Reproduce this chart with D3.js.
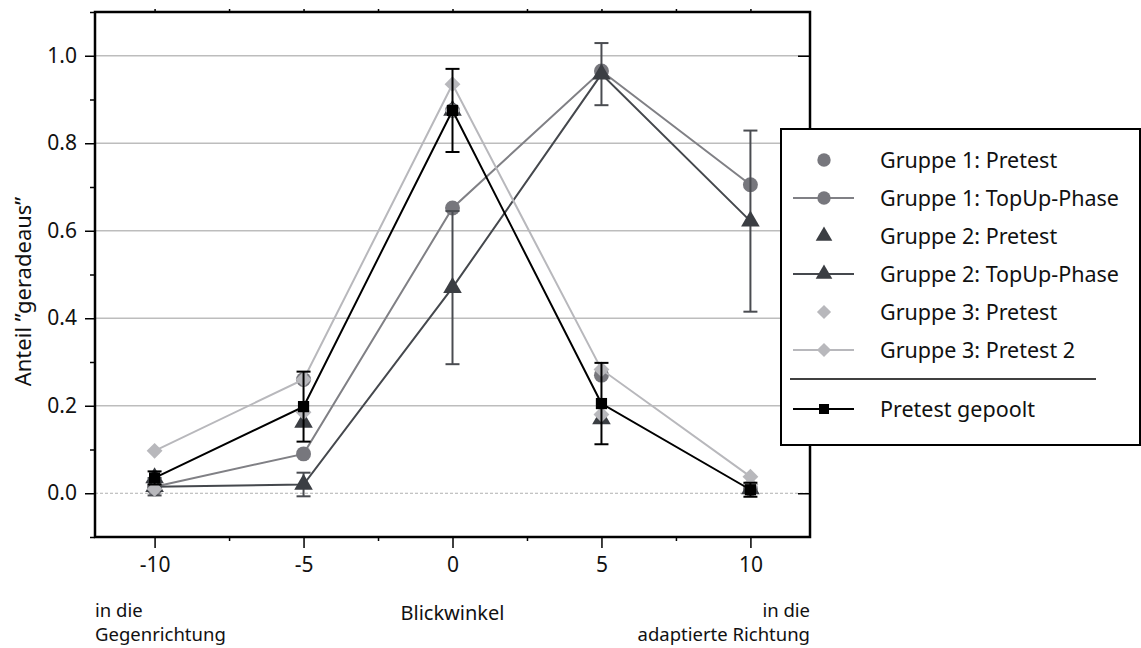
<!DOCTYPE html>
<html>
<head>
<meta charset="utf-8">
<script src="https://cdn.jsdelivr.net/npm/d3@7"></script>
<style>
  body { margin: 0; background: #fff; }
  svg text { font-family: "Noto Sans", "Open Sans", sans-serif; fill: #111; }
</style>
</head>
<body>
<svg id="chart" width="1141" height="648"></svg>
<script>
// data
const angles = [-10, -5, 0, 5, 10];
const g1Pretest = [0.01, 0.26, 0.875, 0.27, 0.01];
const g1TopUp = [0.015, 0.09, 0.652, 0.965, 0.705];
const g2Pretest = [0.035, 0.162, 0.875, 0.17, 0.01];
const g2TopUp = [0.015, 0.02, 0.47, 0.958, 0.622];
const g2TopUpErr = [0.02, 0.027, 0.175, 0.071, 0.207];
const g3Pretest = [0.01, 0.185, 0.875, 0.18, 0.02];
const g3Pretest2 = [0.097, 0.26, 0.935, 0.283, 0.038];
const pooled = [0.035, 0.198, 0.875, 0.205, 0.008];
const pooledErr = [0.015, 0.08, 0.095, 0.093, 0.016];
const xTicks = [-10, -5, 0, 5, 10];
const yTicks = [0, 0.2, 0.4, 0.6, 0.8, 1.0];

const series = [
  { name: 'Gruppe 1: Pretest', values: g1Pretest, shape: d3.symbolCircle, size: 175, fill: '#77777d', line: null },
  { name: 'Gruppe 1: TopUp-Phase', values: g1TopUp, shape: d3.symbolCircle, size: 175, fill: '#77777d', line: '#808085' },
  { name: 'Gruppe 2: Pretest', values: g2Pretest, shape: d3.symbolTriangle, size: 150, fill: '#3b3e43', line: null },
  { name: 'Gruppe 2: TopUp-Phase', values: g2TopUp, shape: d3.symbolTriangle, size: 150, fill: '#3b3e43', line: '#45484d', err: g2TopUpErr, errColor: '#4a4c51' },
  { name: 'Gruppe 3: Pretest', values: g3Pretest, shape: d3.symbolDiamond2, size: 160, fill: '#b8b8bc', line: null },
  { name: 'Gruppe 3: Pretest 2', values: g3Pretest2, shape: d3.symbolDiamond2, size: 160, fill: '#b8b8bc', line: '#b8b8bc' },
  { name: 'Pretest gepoolt', values: pooled, shape: d3.symbolSquare2, size: 160, fill: '#000', line: '#000', err: pooledErr, errColor: '#000' }
];

const svg = d3.select('#chart');
const mLeft = 95, mRight = 810, mTop = 12, mBottom = 537;

const x = d3.scaleLinear().domain([-12, 12]).range([mLeft, mRight]);
const y = d3.scaleLinear().domain([-0.1, 1.1]).range([mBottom, mTop]);

// grid
svg.append('g')
  .selectAll('line')
  .data(yTicks.filter(d => d > 0))
  .enter()
  .append('line')
  .attr('x1', mLeft).attr('x2', mRight)
  .attr('y1', d => y(d)).attr('y2', d => y(d))
  .attr('stroke', '#bdbdbd')
  .attr('stroke-width', 1.5);

svg.append('line')
  .attr('x1', mLeft).attr('x2', mRight)
  .attr('y1', y(0)).attr('y2', y(0))
  .attr('stroke', '#b0b0b0')
  .attr('stroke-width', 1)
  .attr('stroke-dasharray', '3,2');

// axes
const xMinor = d3.range(-12.5, 12.6, 2.5).filter(d => d >= -12 && d <= 12 && d % 5 !== 0);
const yMinor = d3.range(-0.1, 1.11, 0.2);

svg.append('g')
  .attr('transform', `translate(0,${mBottom})`)
  .call(d3.axisBottom(x).tickValues(xTicks).tickSize(11).tickPadding(9).tickFormat(d => String(d)))
  .call(g => g.select('.domain').remove())
  .call(g => g.selectAll('text').style('font-size', '21px'));

svg.append('g')
  .attr('transform', `translate(0,${mBottom})`)
  .call(d3.axisBottom(x).tickValues(xMinor).tickSize(4).tickFormat(''))
  .call(g => g.select('.domain').remove());

svg.append('g')
  .attr('transform', `translate(${mLeft},0)`)
  .call(d3.axisLeft(y).tickValues(yTicks).tickSize(10).tickPadding(8).tickFormat(d3.format('.1f')))
  .call(g => g.select('.domain').remove())
  .call(g => g.selectAll('text').style('font-size', '21px'));

svg.append('g')
  .attr('transform', `translate(${mLeft},0)`)
  .call(d3.axisLeft(y).tickValues(yMinor).tickSize(5).tickFormat(''))
  .call(g => g.select('.domain').remove());

svg.append('g')
  .attr('transform', `translate(${mRight},0)`)
  .call(d3.axisLeft(y).tickValues(yTicks).tickSize(12).tickFormat(''))
  .call(g => g.select('.domain').remove());

svg.append('g')
  .attr('transform', `translate(0,${mTop})`)
  .call(d3.axisTop(x).tickValues(xTicks.concat(xMinor)).tickSize(3).tickFormat(''))
  .call(g => g.select('.domain').remove());

svg.selectAll('.tick line').attr('stroke', '#000').attr('stroke-width', 1.5);

// frame
svg.append('rect')
  .attr('x', mLeft).attr('y', mTop)
  .attr('width', mRight - mLeft).attr('height', mBottom - mTop)
  .attr('fill', 'none')
  .attr('stroke', '#000')
  .attr('stroke-width', 2.5);

// series
const lineGen = d3.line()
  .x((d, i) => x(angles[i]))
  .y(d => y(d));

series.forEach(s => {
  const g = svg.append('g');
  if (s.line) {
    g.append('path')
      .attr('d', lineGen(s.values))
      .attr('fill', 'none')
      .attr('stroke', s.line)
      .attr('stroke-width', 2);
  }
  if (s.err) {
    s.values.forEach((v, i) => {
      const cx = x(angles[i]);
      const y0 = y(v - s.err[i]), y1 = y(v + s.err[i]);
      g.append('line').attr('x1', cx).attr('x2', cx).attr('y1', y0).attr('y2', y1)
        .attr('stroke', s.errColor).attr('stroke-width', 2);
      [y0, y1].forEach(yy => {
        g.append('line').attr('x1', cx - 7).attr('x2', cx + 7).attr('y1', yy).attr('y2', yy)
          .attr('stroke', s.errColor).attr('stroke-width', 2);
      });
    });
  }
  g.selectAll('path.mark')
    .data(s.values)
    .enter()
    .append('path')
    .attr('class', 'mark')
    .attr('d', d3.symbol().type(s.shape).size(s.size))
    .attr('transform', (d, i) => `translate(${x(angles[i])},${y(d)})`)
    .attr('fill', s.fill);
});

// axis titles
svg.append('text')
  .attr('transform', `translate(31,${(mTop + mBottom) / 2 + 17}) rotate(-90)`)
  .attr('text-anchor', 'middle')
  .style('font-size', '22px')
  .text('Anteil \u201Dgeradeaus\u201D');

svg.append('text')
  .attr('x', x(0)).attr('y', 620)
  .attr('text-anchor', 'middle')
  .style('font-size', '20px')
  .text('Blickwinkel');

[['in die', 617], ['Gegenrichtung', 641]].forEach(([t, yy]) => {
  svg.append('text').attr('x', mLeft).attr('y', yy)
    .style('font-size', '18.5px').text(t);
});
[['in die', 617], ['adaptierte Richtung', 641]].forEach(([t, yy]) => {
  svg.append('text').attr('x', mRight).attr('y', yy)
    .attr('text-anchor', 'end')
    .style('font-size', '18.5px').text(t);
});

// legend
const legend = svg.append('g');
legend.append('rect')
  .attr('x', 781).attr('y', 129)
  .attr('width', 359).attr('height', 316)
  .attr('fill', '#fff')
  .attr('stroke', '#000')
  .attr('stroke-width', 2);

const rowY = [160, 198, 236, 274, 312, 350, 409];
series.forEach((s, i) => {
  const yy = rowY[i];
  if (s.line) {
    legend.append('line')
      .attr('x1', 793).attr('x2', 854).attr('y1', yy).attr('y2', yy)
      .attr('stroke', s.line).attr('stroke-width', 2);
  }
  legend.append('path')
    .attr('d', d3.symbol().type(s.shape).size(s.size * 0.8))
    .attr('transform', `translate(824,${yy})`)
    .attr('fill', s.fill);
  legend.append('text')
    .attr('x', 880).attr('y', yy + 8)
    .style('font-size', '21.5px')
    .text(s.name);
});

legend.append('line')
  .attr('x1', 790).attr('x2', 1096).attr('y1', 379).attr('y2', 379)
  .attr('stroke', '#000').attr('stroke-width', 1.5);
</script>
</body>
</html>
